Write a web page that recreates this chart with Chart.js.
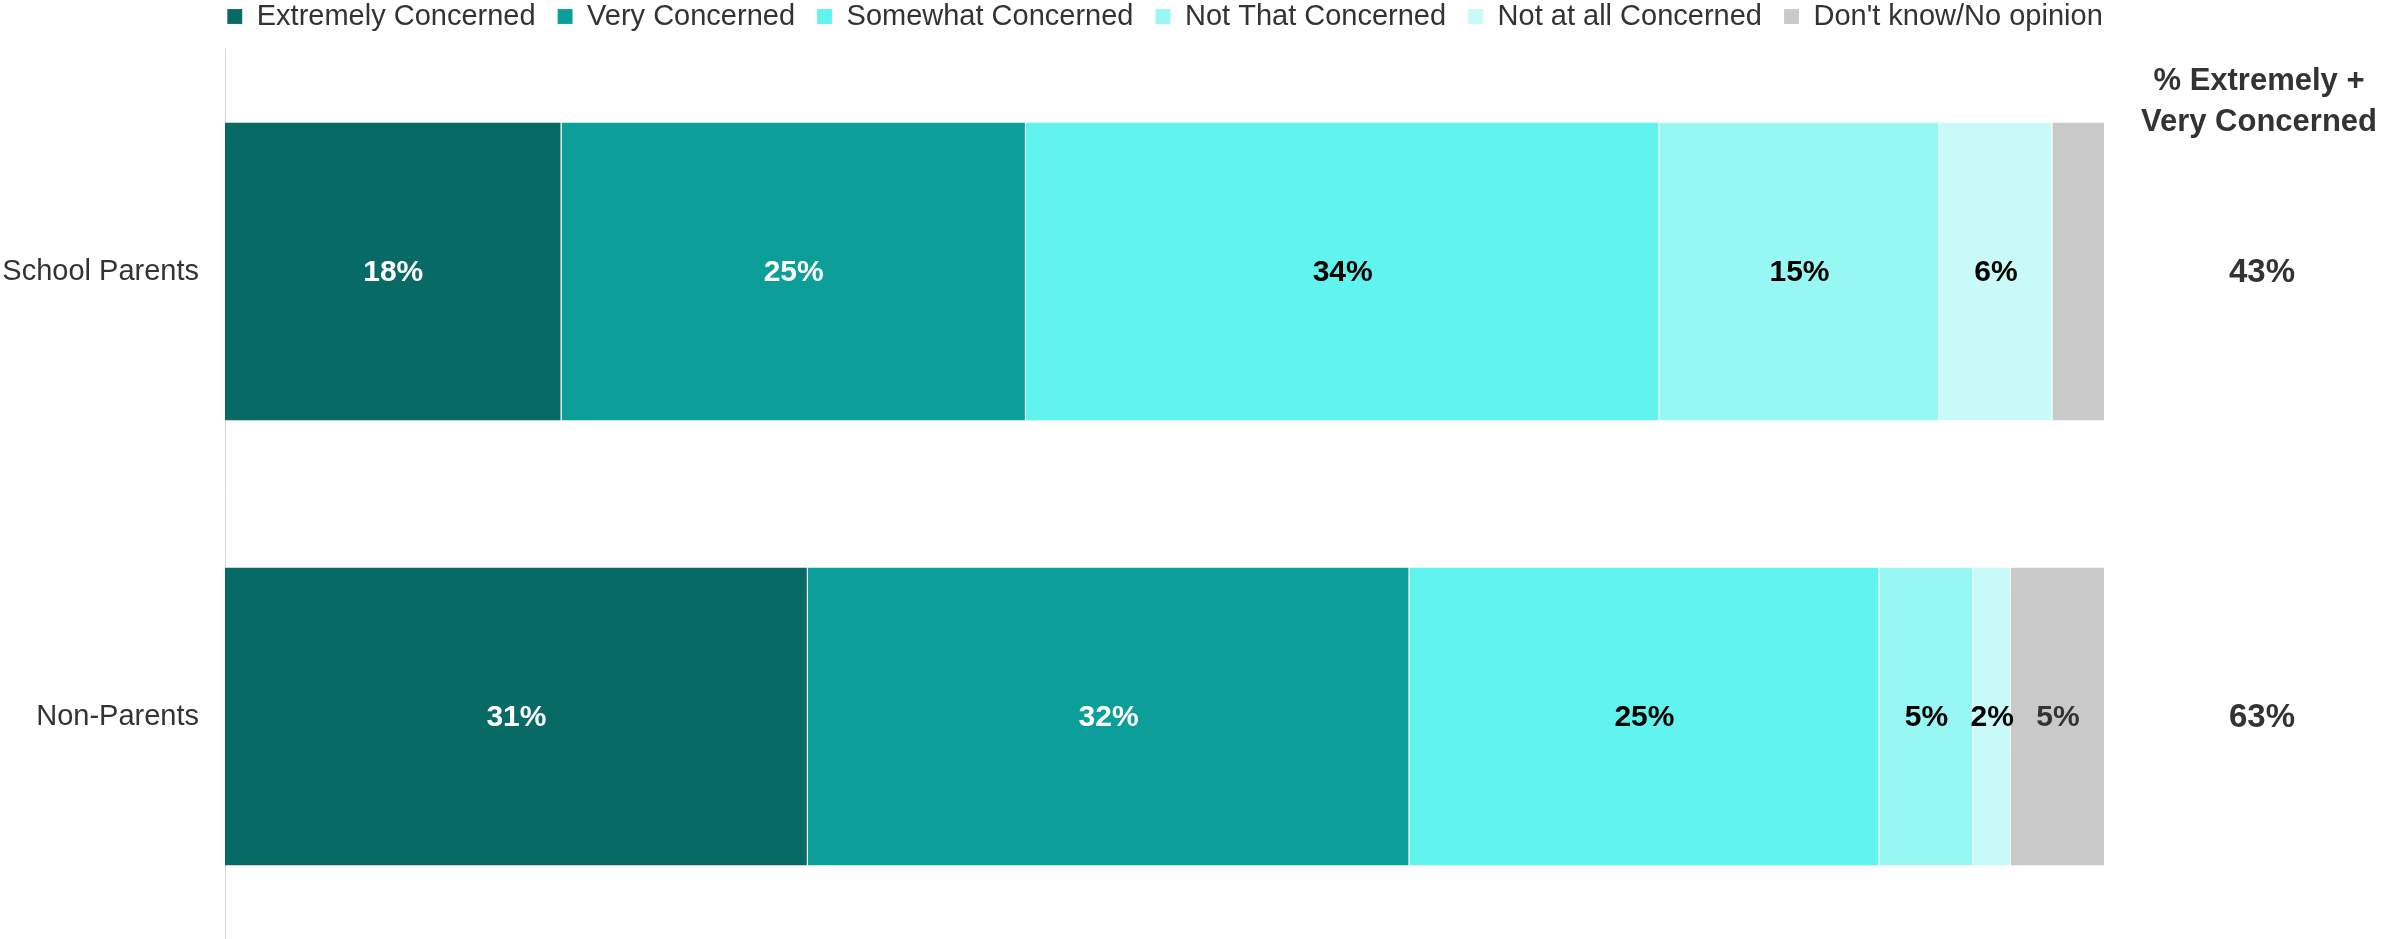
<!DOCTYPE html>
<html>
<head>
<meta charset="utf-8">
<script src="https://cdn.jsdelivr.net/npm/chart.js@4"></script>
<style>
    html, body { margin: 0; padding: 0; background: #fff; overflow: hidden; }
    #wrap { position: relative; width: 2381px; height: 939px; }
</style>
</head>
<body>
<div id="wrap"><canvas id="myChart"></canvas></div>
<script>
// data
const groups = ['School Parents', 'Non-Parents'];
const extremely = [17.9, 31.0];
const very = [24.7, 32.0];
const somewhat = [33.7, 25.0];
const notThat = [14.9, 5.0];
const notAtAll = [6.0, 2.0];
const dontKnow = [2.8, 5.0];
const topTwo = ['43%', '63%'];
const topTwoTitle = ['% Extremely +', 'Very Concerned'];

const FONT = "'Liberation Sans', Arial, sans-serif";

// bar value labels, drawn in the middle of each segment
const segmentLabels = {
    id: 'segmentLabels',
    afterDatasetsDraw(chart) {
        const c = chart.ctx;
        c.save();
        c.font = 'bold 30px ' + FONT;
        c.textAlign = 'center';
        c.textBaseline = 'middle';
        chart.data.datasets.forEach((ds, i) => {
            chart.getDatasetMeta(i).data.forEach((bar, j) => {
                if (ds.hideLabel && ds.hideLabel[j]) return;
                const p = bar.getCenterPoint();
                c.fillStyle = ds.labelColor;
                c.fillText(Math.round(ds.data[j]) + '%', p.x, p.y + 1);
            });
        });
        c.restore();
    }
};

// right hand "% Extremely + Very Concerned" column
const sideColumn = {
    id: 'sideColumn',
    afterDraw(chart) {
        const c = chart.ctx;
        const yScale = chart.scales.y;
        const cx = 2259;
        c.save();
        c.fillStyle = '#333333';
        c.textAlign = 'center';
        c.textBaseline = 'middle';
        c.font = 'bold 31px ' + FONT;
        c.fillText(topTwoTitle[0], cx, 81);
        c.fillText(topTwoTitle[1], cx, 122);
        c.font = 'bold 33px ' + FONT;
        topTwo.forEach((t, i) => {
            c.fillText(t, cx + 3, yScale.getPixelForValue(i) + 1);
        });
        c.restore();
    }
};

// keep the legend a fixed height, pull it up to the top edge
// and centre it over the plot area instead of the whole canvas
const legendFix = {
    id: 'legendFix',
    beforeLayout(chart) {
        const lg = chart.legend;
        if (lg && !lg._fixed) {
            const fit = lg.fit;
            lg.fit = function () {
                fit.call(this);
                this.height = 49;
            };
            lg._fixed = true;
        }
    },
    afterLayout(chart) {
        const lg = chart.legend;
        const shift = (chart.chartArea.left + chart.chartArea.right) / 2 - (lg.left + lg.right) / 2;
        lg.left += shift;
        lg.right += shift;
        lg.top = -20;
    }
};

function series(label, data, color, labelColor, hideLabel) {
    return {
        label: label,
        data: data,
        backgroundColor: color,
        borderColor: 'rgba(255, 255, 255, 0.5)',
        borderWidth: { right: 1 },
        borderSkipped: false,
        labelColor: labelColor,
        hideLabel: hideLabel
    };
}

const ctx = document.getElementById('myChart');

new Chart(ctx, {
    type: 'bar',
    data: {
        labels: groups,
        datasets: [
            series('Extremely Concerned', extremely, '#076A65', '#ffffff'),
            series('Very Concerned', very, '#0C9F9A', '#ffffff'),
            series('Somewhat Concerned', somewhat, '#61F4EE', '#000000'),
            series('Not That Concerned', notThat, '#97F7F3', '#000000'),
            series('Not at all Concerned', notAtAll, '#C8FAF8', '#000000'),
            series("Don't know/No opinion", dontKnow, '#C9C9C9', '#333333', [true, false])
        ]
    },
    options: {
        indexAxis: 'y',
        responsive: true,
        maintainAspectRatio: false,
        animation: false,
        categoryPercentage: 1,
        barPercentage: 0.67,
        layout: {
            padding: { left: 0, right: 276, top: 0, bottom: 0 }
        },
        scales: {
            x: {
                stacked: true,
                display: false,
                min: 0,
                max: 100
            },
            y: {
                stacked: true,
                afterFit(scale) {
                    // the axis runs to the bottom edge, no room kept for label overhang
                    scale.width = 225;
                    scale.paddingTop = 0;
                    scale.paddingBottom = 0;
                },
                grid: { display: false, drawTicks: false },
                border: { display: true, color: '#d9d9d9', width: 1 },
                ticks: {
                    padding: 26,
                    color: '#333333',
                    font: { family: FONT, size: 29 }
                }
            }
        },
        plugins: {
            legend: {
                position: 'top',
                labels: {
                    boxWidth: 15,
                    boxHeight: 15,
                    padding: 22,
                    color: '#333333',
                    font: { family: FONT, size: 29 }
                }
            },
            tooltip: { enabled: false }
        }
    },
    plugins: [segmentLabels, sideColumn, legendFix]
});
</script>
</body>
</html>
